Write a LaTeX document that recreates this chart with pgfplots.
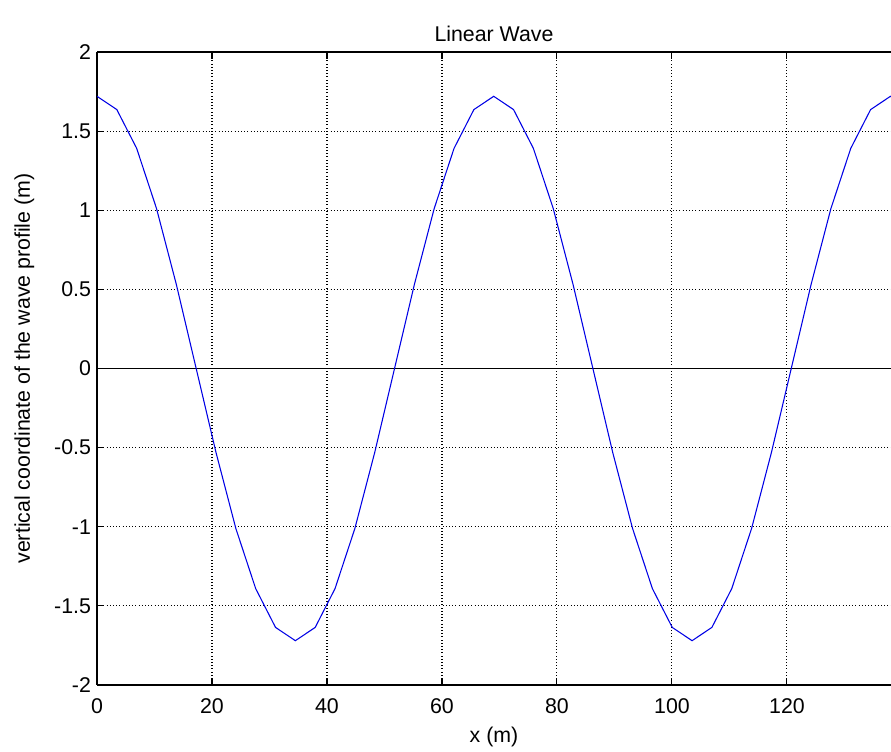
\documentclass[border=0pt]{standalone}
\usepackage{fontspec}
\setmainfont{Liberation Sans}
\usepackage{pgfplots}
\pgfplotsset{compat=1.18}
\begin{document}
\begin{tikzpicture}
\begin{axis}[
  name=ax,
  scale only axis,
  width=595.5pt, height=474.75pt,
  xmin=0, xmax=138.1, ymin=-2, ymax=2,
  axis x line=box, axis y line=left,
  axis line style={black, line width=0.9pt, -},
  xtick={0,20,40,60,80,100,120},
  xticklabels={0,20,40,60,80,100,120},
  ytick={-2,-1.5,-1,-0.5,0,0.5,1,1.5,2},
  yticklabels={-2,-1.5,-1,-0.5,0,0.5,1,1.5,2},
  tick align=inside,
  major tick length=5pt,
  tick style={black, line width=0.8pt},
  grid=major,
  major grid style={black, dotted, line width=0.8pt},
  font=\fontsize{16}{19}\selectfont,
  ticklabel style={font=\fontsize{16}{19}\selectfont},
  xticklabel style={yshift=-7pt},
  yticklabel style={xshift=-1pt},
  title={Linear Wave},
  title style={yshift=-2pt},
  xlabel={x (m)},
  ylabel={vertical coordinate of the wave profile (m)},
  xlabel style={yshift=-3pt},
  ylabel style={yshift=8pt},
  clip=true,
]
\addplot[black, line width=0.9pt] coordinates {(0,0) (140,0)};
\addplot[blue!90!black, line width=0.8pt] coordinates {
(0,1.720) (3.45,1.636) (6.9,1.391) (10.35,1.011) (13.8,0.531) (17.25,0.000)
(20.7,-0.531) (24.15,-1.011) (27.6,-1.391) (31.05,-1.636) (34.5,-1.720)
(37.95,-1.636) (41.4,-1.391) (44.85,-1.011) (48.3,-0.531) (51.75,0.000)
(55.2,0.531) (58.65,1.011) (62.1,1.391) (65.55,1.636) (69.0,1.720)
(72.45,1.636) (75.9,1.391) (79.35,1.011) (82.8,0.531) (86.25,0.000)
(89.7,-0.531) (93.15,-1.011) (96.6,-1.391) (100.05,-1.636) (103.5,-1.720)
(106.95,-1.636) (110.4,-1.391) (113.85,-1.011) (117.3,-0.531) (120.75,0.000)
(124.2,0.531) (127.65,1.011) (131.1,1.391) (134.55,1.636) (138.0,1.720)
(141.45,1.636)
};
\end{axis}
\pgfresetboundingbox
\path[use as bounding box] ([xshift=-72.75pt,yshift=-50.25pt]ax.south west) rectangle ([yshift=39pt]ax.north east);
\end{tikzpicture}
\end{document}
